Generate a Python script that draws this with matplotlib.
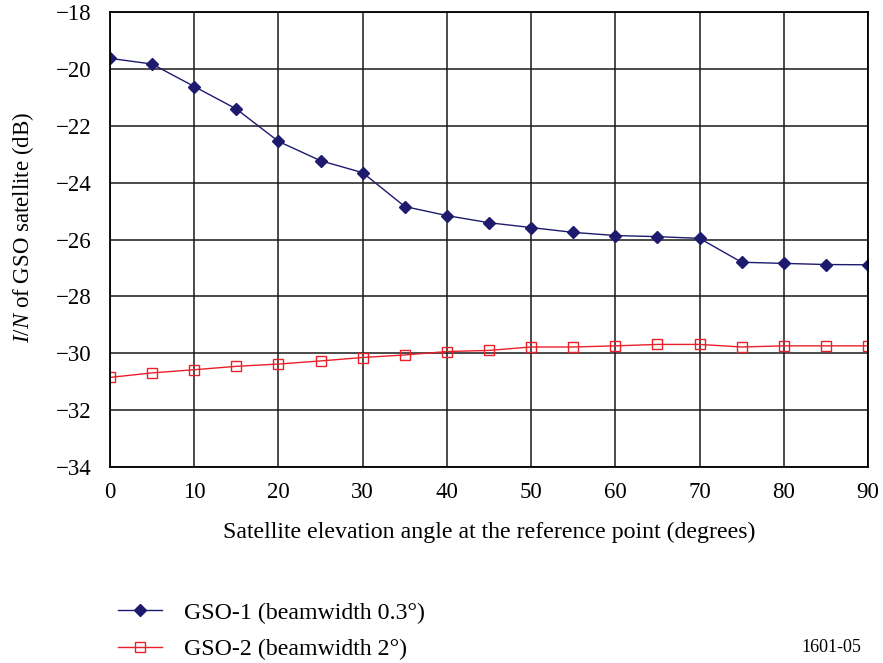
import matplotlib
matplotlib.use("Agg")
import matplotlib.pyplot as plt

plt.rcParams['font.family'] = ['Liberation Serif', 'DejaVu Serif']
plt.rcParams['mathtext.fontset'] = 'custom'
plt.rcParams['mathtext.rm'] = 'Liberation Serif'
plt.rcParams['mathtext.it'] = 'Liberation Serif:italic'

# Datos
elevacion = [0, 5, 10, 15, 20, 25, 30, 35, 40, 45, 50, 55, 60, 65, 70, 75, 80, 85, 90]
gso1 = [-19.63, -19.83, -20.62, -21.41, -22.55, -23.23, -23.65, -24.84, -25.16, -25.41,
        -25.58, -25.75, -25.86, -25.90, -25.96, -26.80, -26.84, -26.88, -26.89]
gso2 = [-30.85, -30.69, -30.58, -30.46, -30.38, -30.27, -30.15, -30.06, -29.94, -29.90,
        -29.78, -29.78, -29.74, -29.69, -29.69, -29.78, -29.74, -29.74, -29.74]
xticks = list(range(0, 91, 10))
yticks = list(range(-34, -17, 2))

fig = plt.figure(figsize=(8.83, 6.63), dpi=100)
ax = fig.add_axes([110/883, 1 - 467/663, 758/883, 455/663])

ax.plot(elevacion, gso1, color='#1e1a6e', lw=1.0, marker='D', ms=6,
        label='GSO-1 (beamwidth 0.3°)')
ax.plot(elevacion, gso2, color='#e8202a', lw=1.0, marker='s', ms=7.5,
        mfc='none', mew=1.0, label='GSO-2 (beamwidth 2°)')

ax.set_xlim(0, 90)
ax.set_ylim(-34, -18)
ax.set_xticks(xticks)
ax.set_yticks(yticks)
ax.grid(True, color='#1a1a1a', lw=1.1)
ax.set_axisbelow(True)
ax.tick_params(axis='x', length=0, labelsize=16.5, pad=11)
ax.tick_params(axis='y', length=0, labelsize=16.5, pad=13)
for s in ax.spines.values():
    s.set_linewidth(1.3)

ax.set_xlabel('Satellite elevation angle at the reference point (degrees)',
              fontsize=17.2, labelpad=13)
ax.set_ylabel(r'$\mathit{I/N}$ of GSO satellite (dB)', fontsize=16.5)
ax.yaxis.set_label_coords(-0.097, 0.527)

fig.legend(loc='upper left', bbox_to_anchor=(118/883, 1 - 602/663), frameon=False,
           fontsize=17.2, handlelength=1.85, labelspacing=0.62, handletextpad=0.92,
           borderpad=0, borderaxespad=0)

fig.text(861/883, 1 - 647/663, '1601-05', fontsize=13, ha='right', va='center')

fig.savefig('out.png', dpi=100)
